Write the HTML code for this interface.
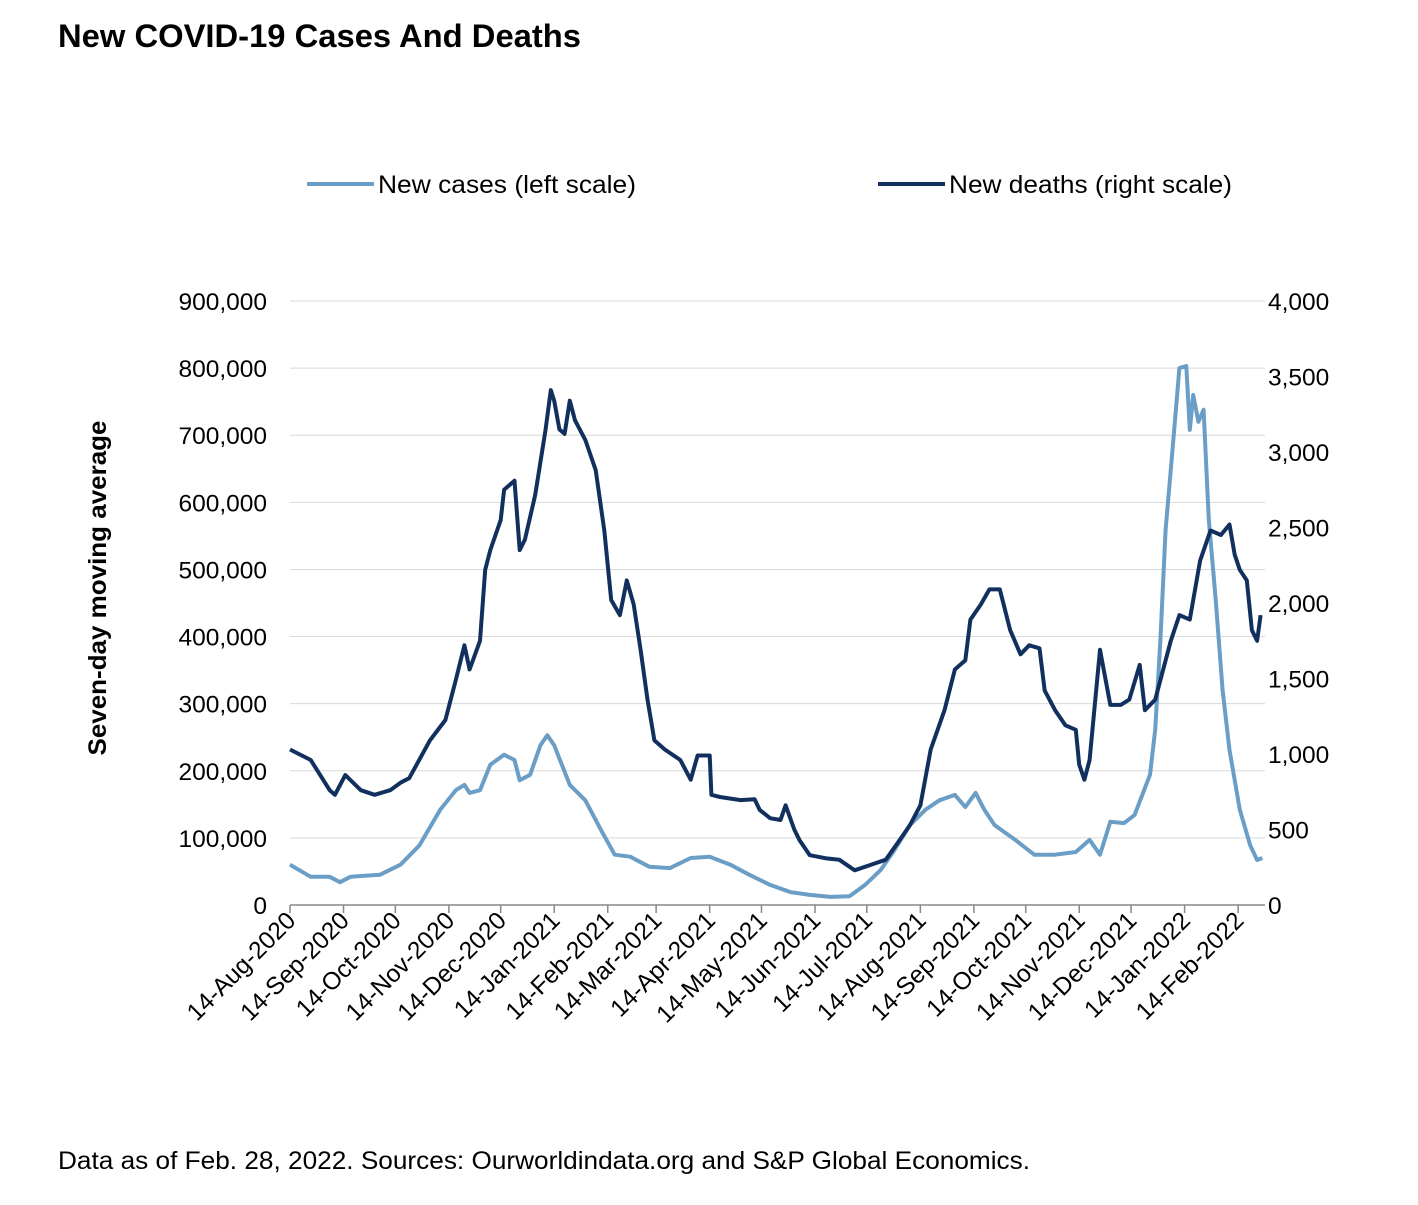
<!DOCTYPE html>
<html><head><meta charset="utf-8"><style>
body{margin:0;background:#fff;width:1418px;height:1200px;overflow:hidden;font-family:"Liberation Sans",Arial,sans-serif}
</style></head><body>
<svg width="1418" height="1200" font-family="Liberation Sans, Arial, sans-serif">
<text x="58" y="47" font-size="32" font-weight="bold" textLength="523" lengthAdjust="spacingAndGlyphs">New COVID-19 Cases And Deaths</text>
<g>
<line x1="307" y1="184" x2="374" y2="184" stroke="#6a9ec6" stroke-width="4"/>
<text x="378" y="193" font-size="25" textLength="258" lengthAdjust="spacingAndGlyphs">New cases (left scale)</text>
<line x1="878" y1="184" x2="945" y2="184" stroke="#12305e" stroke-width="4"/>
<text x="949" y="193" font-size="25" textLength="283" lengthAdjust="spacingAndGlyphs">New deaths (right scale)</text>
</g>
<text transform="translate(106,588) rotate(-90)" text-anchor="middle" font-size="25" font-weight="bold" textLength="335" lengthAdjust="spacingAndGlyphs">Seven-day moving average</text>
<g id="grid"></g><g id="axes"></g><g id="series"></g>
<text x="58" y="1169" font-size="25" textLength="972" lengthAdjust="spacingAndGlyphs">Data as of Feb. 28, 2022. Sources: Ourworldindata.org and S&amp;P Global Economics.</text>
</svg>
<script>
const monthLabels=["14-Aug-2020","14-Sep-2020","14-Oct-2020","14-Nov-2020","14-Dec-2020","14-Jan-2021","14-Feb-2021","14-Mar-2021","14-Apr-2021","14-May-2021","14-Jun-2021","14-Jul-2021","14-Aug-2021","14-Sep-2021","14-Oct-2021","14-Nov-2021","14-Dec-2021","14-Jan-2022","14-Feb-2022"];
const monthDays=[0,31,61,92,122,153,184,212,243,273,304,334,365,396,426,457,487,518,549];
const leftTicks=[0,100000,200000,300000,400000,500000,600000,700000,800000,900000];
const rightTicks=[0,500,1000,1500,2000,2500,3000,3500,4000];
const caseDays=[0,12,23,29,35,52,64,75,87,96,101,104,110,116,124,130,133,139,145,149,153,162,171,180,188,197,208,220,232,243,255,266,278,290,301,313,324,333,342,350,359,368,376,385,391,397,402,408,420,431,443,455,463,469,475,483,489,498,501,504,507,511,515,519,521,523,526,529,532,536,540,544,550,556,560,563];
const caseValues=[60,42,42,34,42,45,60,89,142,171,179,167,171,209,224,216,186,194,238,253,238,179,156,112,75,72,57,55,70,72,60,45,30,19,15,12,13,30,52,82,119,142,156,164,146,167,142,119,97,75,75,79,97,75,124,122,134,194,261,395,559,678,800,803,708,760,720,738,574,455,320,231,142,89,67,70].map(v=>v*1000);
const deathDays=[0,12,23,26,32,41,49,58,64,69,81,90,96,101,104,110,113,116,122,124,127,130,133,136,142,148,151,153,156,159,162,165,171,177,182,186,191,195,199,203,207,211,217,226,232,236,243,244,249,261,269,272,278,284,287,292,295,301,310,318,327,336,345,353,359,365,371,379,385,391,394,400,405,411,417,423,428,434,437,443,449,455,457,460,463,469,475,481,486,492,495,501,510,515,521,527,533,539,544,547,550,554,557,560,562];
const deathValues=[1030,960,760,730,860,760,730,760,810,840,1090,1225,1490,1720,1560,1750,2220,2350,2550,2750,2780,2810,2350,2420,2715,3150,3410,3340,3150,3120,3340,3210,3080,2880,2480,2020,1920,2150,1990,1690,1360,1090,1030,960,830,990,990,730,715,695,700,630,575,563,660,500,430,330,310,300,230,265,300,430,530,660,1030,1290,1560,1620,1890,1990,2090,2090,1820,1660,1720,1700,1420,1290,1190,1160,930,830,960,1690,1325,1325,1360,1590,1290,1360,1750,1920,1890,2280,2480,2450,2520,2320,2220,2150,1820,1750,1920];
const NS='http://www.w3.org/2000/svg';
const X0=290,PX=1.727,Y0=905,YT=301;
const xs=d=>X0+d*PX, yl=v=>Y0-(v/900000)*(Y0-YT), yr=v=>Y0-(v/4000)*(Y0-YT);
function mk(tag,attrs,parent,txt){const e=document.createElementNS(NS,tag);for(const k in attrs)e.setAttribute(k,attrs[k]);if(txt!=null)e.textContent=txt;parent.appendChild(e);return e;}
const grid=document.getElementById('grid'),axes=document.getElementById('axes'),series=document.getElementById('series');
const fmt=v=>v.toLocaleString('en-US');
leftTicks.forEach(v=>{
 if(v>0){const g=mk('line',{x1:X0,x2:1265,y1:yl(v),y2:yl(v),stroke:'#d9d9d9','stroke-width':1},grid);
 
 }
 const t=mk('text',{x:267,y:yl(v)+9,'text-anchor':'end','font-size':24.5},axes,fmt(v));
 
 
});
rightTicks.forEach(v=>{
 const t=mk('text',{x:1268,y:yr(v)+9,'font-size':24.5},axes,fmt(v));
 
 
});
const ax=mk('line',{x1:X0,x2:1265,y1:Y0,y2:Y0,stroke:'#888','stroke-width':1.5},axes);


monthDays.forEach((d,i)=>{
 const x=xs(d);
 const tk=mk('line',{x1:x,x2:x,y1:Y0,y2:Y0+8,stroke:'#888','stroke-width':1.5},axes);
 
 
 const t=mk('text',{transform:`translate(${x+7},${Y0+17}) rotate(-45)`,'text-anchor':'end','font-size':24.5},axes,monthLabels[i]);
 
 
});
const pc=caseDays.map((d,i)=>xs(d).toFixed(1)+','+yl(caseValues[i]).toFixed(1)).join(' ');
const l1=mk('polyline',{points:pc,fill:'none',stroke:'#6a9ec6','stroke-width':4,'stroke-linejoin':'round'},series);


const pd=deathDays.map((d,i)=>xs(d).toFixed(1)+','+yr(deathValues[i]).toFixed(1)).join(' ');
const l2=mk('polyline',{points:pd,fill:'none',stroke:'#12305e','stroke-width':4,'stroke-linejoin':'round'},series);


</script>
</body></html>
